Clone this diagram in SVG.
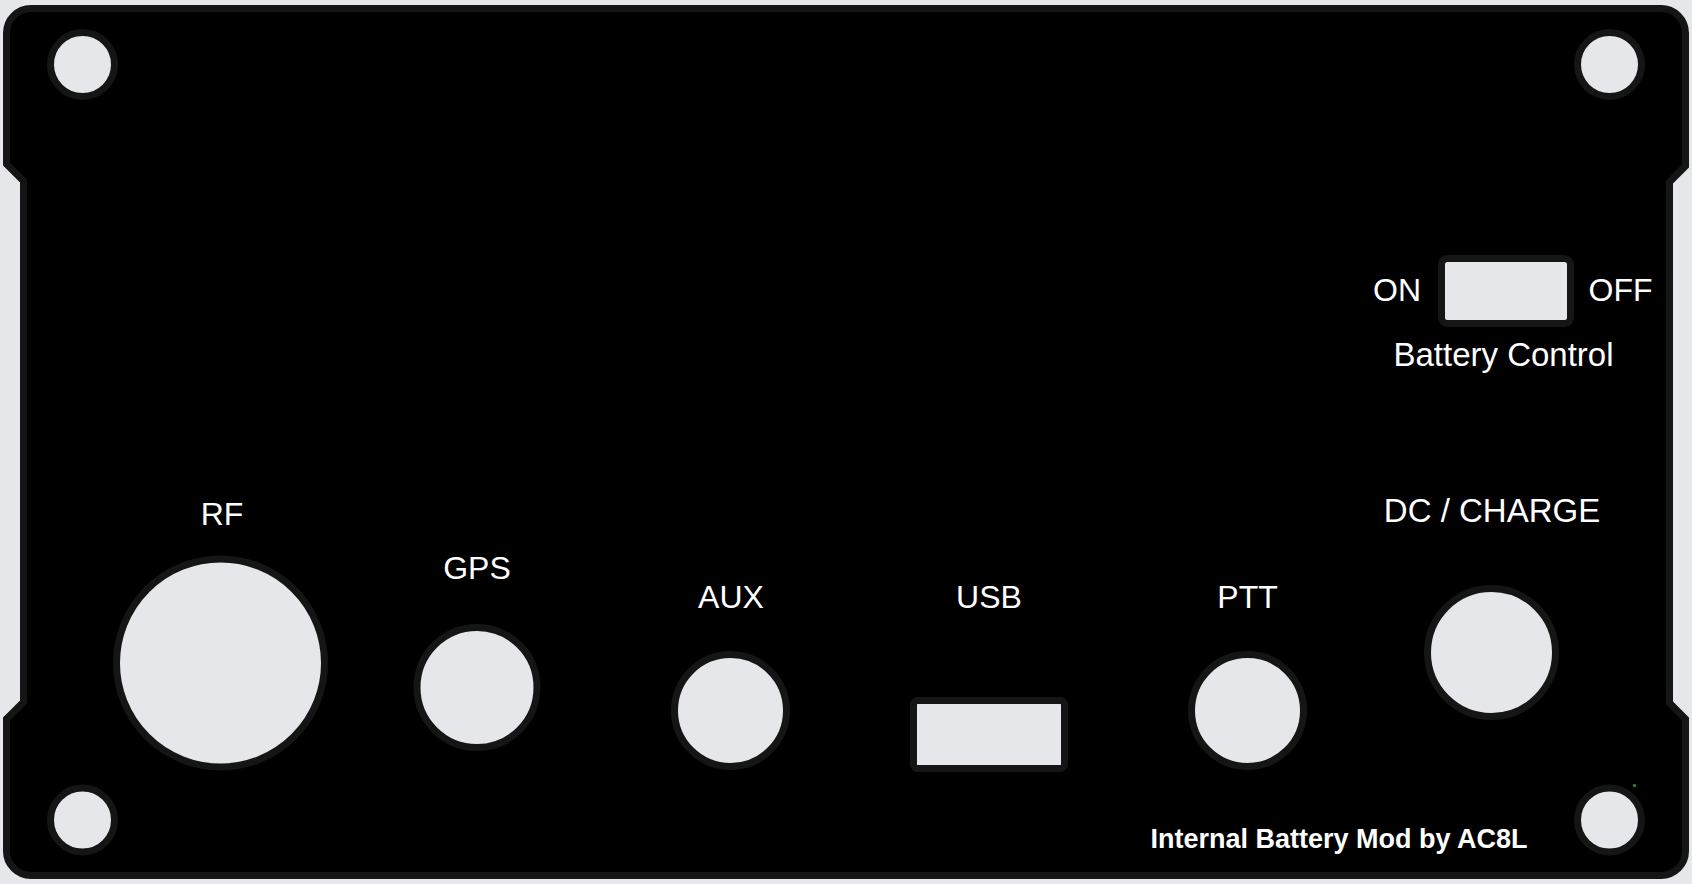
<svg xmlns="http://www.w3.org/2000/svg" width="1692" height="884" viewBox="0 0 1692 884">
<style>
.hole{fill:#e6e7eb;stroke:#151515;stroke-width:7}
.lbl{fill:#ffffff;font-family:"Liberation Sans",Arial,sans-serif;font-size:32px;text-anchor:middle}
.credit{fill:#ffffff;font-family:"Liberation Sans",Arial,sans-serif;font-size:27px;font-weight:bold;text-anchor:middle}
</style>
<rect x="0" y="0" width="1692" height="884" fill="#e6e7eb"/>
<g id="panel">
<path d="M31,8.5 H1661 A24.5,24.5 0 0 1 1685.5,33 V166 L1669.5,182 V703 L1685.5,719 V851 A24.5,24.5 0 0 1 1661,875.5 H31 A24.5,24.5 0 0 1 6.5,851 V719 L23.5,702 V181 L6.5,164 V33 A24.5,24.5 0 0 1 31,8.5 Z" fill="#000000" stroke="#151515" stroke-width="7" stroke-linejoin="miter"/>
</g>
<g id="mount-holes">
<circle class="hole" cx="82.5" cy="64.5" r="32"/>
<circle class="hole" cx="1609.5" cy="64.5" r="32"/>
<circle class="hole" cx="82.5" cy="820" r="32"/>
<circle class="hole" cx="1609.5" cy="820" r="32"/>
</g>
<g id="switch">
<rect class="hole" x="1441.5" y="258.5" width="129" height="65" rx="6"/>
<text class="lbl" x="1397" y="301">ON</text>
<text class="lbl" x="1620.5" y="301">OFF</text>
<text class="lbl" x="1503.5" y="366" style="font-size:33px">Battery Control</text>
</g>
<g id="rf">
<circle class="hole" cx="220.5" cy="663" r="104"/>
<text class="lbl" x="222" y="525">RF</text>
</g>
<g id="gps">
<circle class="hole" cx="477" cy="687.5" r="60"/>
<text class="lbl" x="477" y="579">GPS</text>
</g>
<g id="aux">
<circle class="hole" cx="730.5" cy="710.5" r="56"/>
<text class="lbl" x="731" y="608">AUX</text>
</g>
<g id="usb">
<rect class="hole" x="913.5" y="700.5" width="151" height="68" rx="4"/>
<text class="lbl" x="989" y="608">USB</text>
</g>
<g id="ptt">
<circle class="hole" cx="1247.5" cy="710.5" r="56"/>
<text class="lbl" x="1247.5" y="608">PTT</text>
</g>
<g id="dc">
<circle class="hole" cx="1491.5" cy="652.5" r="64"/>
<text class="lbl" x="1492" y="522" style="font-size:33px">DC / CHARGE</text>
</g>
<g id="credit">
<text class="credit" x="1339" y="848">Internal Battery Mod by AC8L</text>
</g>
<g id="connectors"></g>
<circle cx="1634.5" cy="785.5" r="1.8" fill="#3b6e3b"/>
</svg>
